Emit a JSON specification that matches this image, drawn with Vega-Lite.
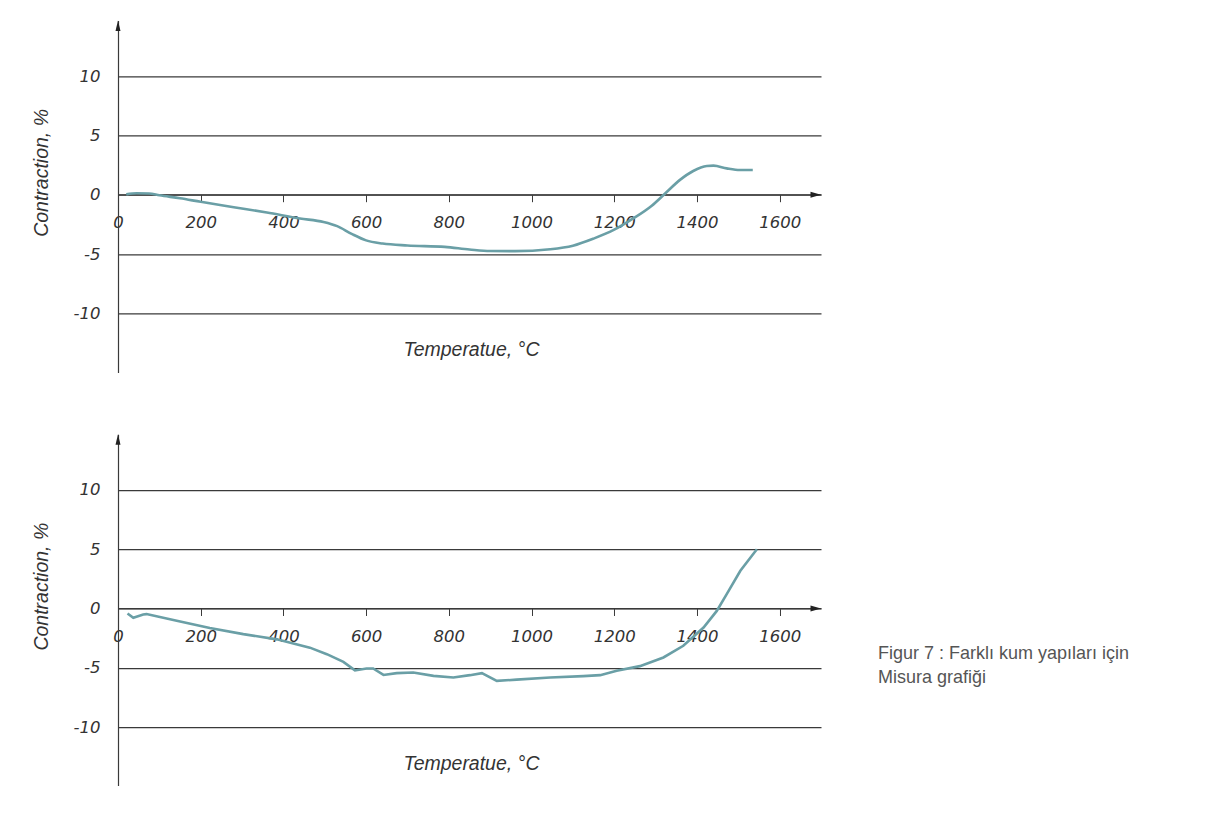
{
  "$schema": "https://vega.github.io/schema/vega-lite/v6.json",
  "background": "white",
  "autosize": {"type": "pad"},
  "padding": {"left": 31, "top": 20.4, "right": 0, "bottom": 0},
  "datasets": {
    "upper": [
      {"temperature": 20, "contraction": 0.03},
      {"temperature": 45, "contraction": 0.12},
      {"temperature": 75, "contraction": 0.1},
      {"temperature": 100, "contraction": -0.05},
      {"temperature": 150, "contraction": -0.3},
      {"temperature": 200, "contraction": -0.6},
      {"temperature": 280, "contraction": -1.05},
      {"temperature": 360, "contraction": -1.5},
      {"temperature": 440, "contraction": -2.0},
      {"temperature": 497, "contraction": -2.3},
      {"temperature": 530, "contraction": -2.65},
      {"temperature": 565, "contraction": -3.3},
      {"temperature": 600, "contraction": -3.85},
      {"temperature": 640, "contraction": -4.12},
      {"temperature": 700, "contraction": -4.28},
      {"temperature": 790, "contraction": -4.4},
      {"temperature": 850, "contraction": -4.62},
      {"temperature": 900, "contraction": -4.75},
      {"temperature": 960, "contraction": -4.76},
      {"temperature": 1045, "contraction": -4.6},
      {"temperature": 1100, "contraction": -4.3},
      {"temperature": 1150, "contraction": -3.7},
      {"temperature": 1200, "contraction": -2.95},
      {"temperature": 1246, "contraction": -2.0},
      {"temperature": 1290, "contraction": -0.95},
      {"temperature": 1323, "contraction": 0.1},
      {"temperature": 1359, "contraction": 1.25},
      {"temperature": 1391, "contraction": 2.0},
      {"temperature": 1424, "contraction": 2.42},
      {"temperature": 1440, "contraction": 2.45},
      {"temperature": 1472, "contraction": 2.22},
      {"temperature": 1504, "contraction": 2.08},
      {"temperature": 1535, "contraction": 2.08}
    ],
    "lower": [
      {"temperature": 23, "contraction": -0.42},
      {"temperature": 37, "contraction": -0.78},
      {"temperature": 61, "contraction": -0.5},
      {"temperature": 69, "contraction": -0.47},
      {"temperature": 142, "contraction": -1.04},
      {"temperature": 222, "contraction": -1.65},
      {"temperature": 303, "contraction": -2.16},
      {"temperature": 384, "contraction": -2.6},
      {"temperature": 464, "contraction": -3.3},
      {"temperature": 505, "contraction": -3.85},
      {"temperature": 545, "contraction": -4.5},
      {"temperature": 573, "contraction": -5.22},
      {"temperature": 601, "contraction": -5.06},
      {"temperature": 617, "contraction": -5.06},
      {"temperature": 642, "contraction": -5.6},
      {"temperature": 674, "contraction": -5.45},
      {"temperature": 714, "contraction": -5.4},
      {"temperature": 763, "contraction": -5.68},
      {"temperature": 811, "contraction": -5.82},
      {"temperature": 851, "contraction": -5.62},
      {"temperature": 880, "contraction": -5.45},
      {"temperature": 916, "contraction": -6.1},
      {"temperature": 964, "contraction": -6.0},
      {"temperature": 1045, "contraction": -5.82},
      {"temperature": 1125, "contraction": -5.7},
      {"temperature": 1166, "contraction": -5.62},
      {"temperature": 1206, "contraction": -5.25},
      {"temperature": 1262, "contraction": -4.86},
      {"temperature": 1319, "contraction": -4.13},
      {"temperature": 1367, "contraction": -3.14},
      {"temperature": 1416, "contraction": -1.6},
      {"temperature": 1448, "contraction": -0.2},
      {"temperature": 1472, "contraction": 1.21},
      {"temperature": 1505, "contraction": 3.18},
      {"temperature": 1545, "contraction": 5.0}
    ]
  },
  "bounds": "flush",
  "spacing": 60.8,
  "vconcat": [
    {
      "width": 703,
      "height": 352.2,
      "layer": [
        {
          "data": {"name": "upper"},
          "mark": {"type": "line", "color": "#6a9fa6", "strokeWidth": 2.6, "interpolate": "monotone"},
          "encoding": {
            "x": {
              "field": "temperature", "type": "quantitative",
              "scale": {"domain": [0, 1700], "nice": false, "zero": false},
              "axis": {"title": "Temperatue, °C", "values": [0, 200, 400, 600, 800, 1000, 1200, 1400, 1600], "labelExpr": "'' + datum.value", "labelPadding": 13, "offset": -177.9, "grid": false, "titleX": 353, "titleY": 155, "titleBaseline": "middle", "titleAlign": "center"}
            },
            "y": {
              "field": "contraction", "type": "quantitative",
              "scale": {"domain": [-15, 14.7], "nice": false, "zero": false},
              "axis": {"title": "Contraction, %", "values": [-10, -5, 0, 5, 10], "grid": true, "ticks": false, "labelPadding": 18, "labelExpr": "'' + datum.value", "titleAngle": -90, "titleX": -77, "titleY": 152, "titleBaseline": "middle", "titleAlign": "center"}
            }
          }
        },
        {
          "data": {"values": [{}]},
          "mark": {"type": "point", "shape": "M0,0L0.5,2.1L-0.5,2.1Z", "filled": true, "color": "#222", "opacity": 1, "size": 100},
          "encoding": {"x": {"datum": 0}, "y": {"datum": 14.7}}
        },
        {
          "data": {"values": [{}]},
          "mark": {"type": "point", "shape": "M0,0L-2.1,-0.6L-2.1,0.6Z", "filled": true, "color": "#222", "opacity": 1, "size": 100},
          "encoding": {"x": {"datum": 1700}, "y": {"datum": 0}}
        }
      ]
    },
    {
      "width": 703,
      "height": 352.2,
      "title": {
        "text": ["Figur 7 : Farklı kum yapıları için", "Misura grafiği"],
        "orient": "right",
        "anchor": "middle",
        "angle": 0,
        "align": "left",
        "baseline": "top",
        "offset": -194,
        "dy": 35,
        "font": "Liberation Sans",
        "fontSize": 18,
        "fontWeight": "normal",
        "fontStyle": "normal",
        "color": "#555555",
        "lineHeight": 23.4
      },
      "layer": [
        {
          "data": {"name": "lower"},
          "mark": {"type": "line", "color": "#6a9fa6", "strokeWidth": 2.6, "interpolate": "linear"},
          "encoding": {
            "x": {
              "field": "temperature", "type": "quantitative",
              "scale": {"domain": [0, 1700], "nice": false, "zero": false},
              "axis": {"title": "Temperatue, °C", "values": [0, 200, 400, 600, 800, 1000, 1200, 1400, 1600], "labelExpr": "'' + datum.value", "labelPadding": 13, "offset": -177.9, "grid": false, "titleX": 353, "titleY": 155, "titleBaseline": "middle", "titleAlign": "center"}
            },
            "y": {
              "field": "contraction", "type": "quantitative",
              "scale": {"domain": [-15, 14.7], "nice": false, "zero": false},
              "axis": {"title": "Contraction, %", "values": [-10, -5, 0, 5, 10], "grid": true, "ticks": false, "labelPadding": 18, "labelExpr": "'' + datum.value", "titleAngle": -90, "titleX": -77, "titleY": 152, "titleBaseline": "middle", "titleAlign": "center"}
            }
          }
        },
        {
          "data": {"values": [{}]},
          "mark": {"type": "point", "shape": "M0,0L0.5,2.1L-0.5,2.1Z", "filled": true, "color": "#222", "opacity": 1, "size": 100},
          "encoding": {"x": {"datum": 0}, "y": {"datum": 14.7}}
        },
        {
          "data": {"values": [{}]},
          "mark": {"type": "point", "shape": "M0,0L-2.1,-0.6L-2.1,0.6Z", "filled": true, "color": "#222", "opacity": 1, "size": 100},
          "encoding": {"x": {"datum": 1700}, "y": {"datum": 0}}
        }
      ]
    }
  ],
  "config": {
    "view": {"stroke": null},
    "axis": {
      "domain": true,
      "domainColor": "#3a3a3a",
      "domainWidth": 1.2,
      "tickColor": "#3a3a3a",
      "tickSize": 7,
      "tickWidth": 1,
      "gridColor": "#3a3a3a",
      "gridWidth": 1.2,
      "gridOpacity": 1,
      "labelFont": "DejaVu Sans",
      "labelFontStyle": "italic",
      "labelFontSize": 16.5,
      "labelColor": "#333333",
      "labelPadding": 10,
      "labelFlush": false,
      "labelOverlap": false,
      "titleFont": "Liberation Sans",
      "titleFontStyle": "italic",
      "titleFontWeight": "normal",
      "titleFontSize": 19.5,
      "titleColor": "#333333"
    }
  }
}
